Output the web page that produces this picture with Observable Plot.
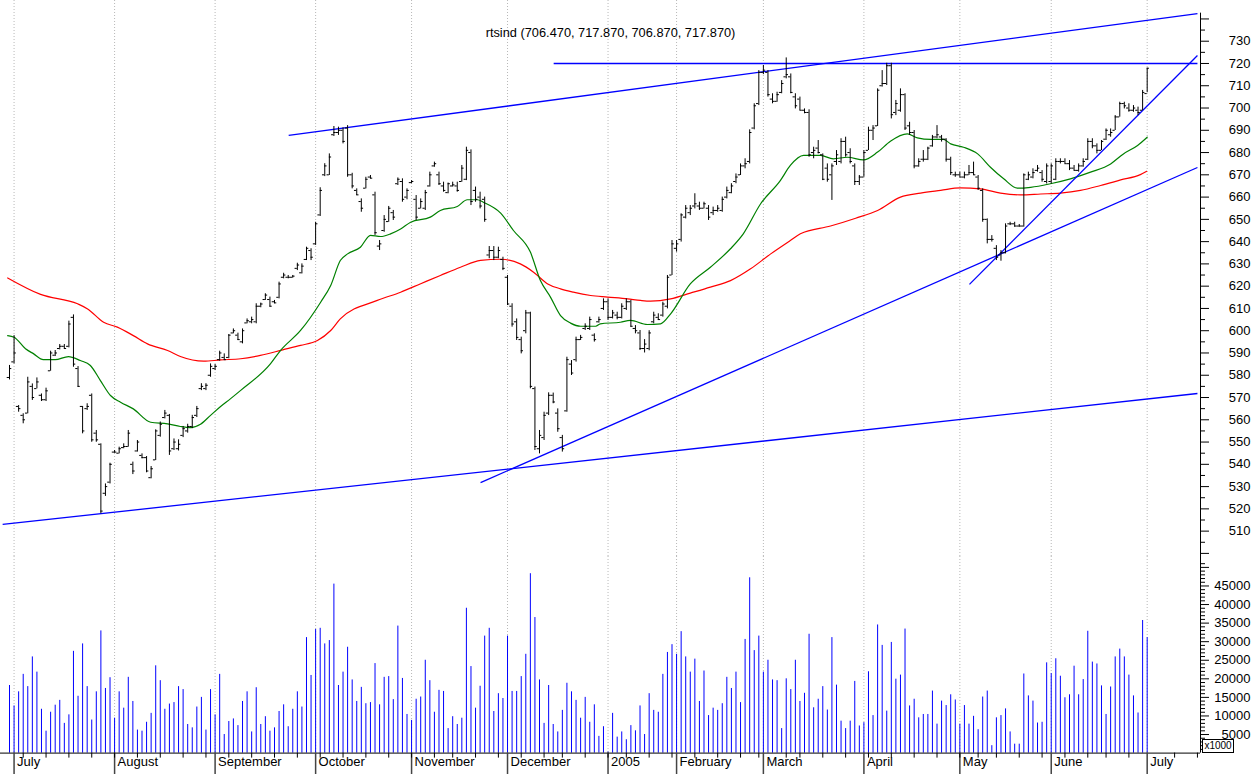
<!DOCTYPE html>
<html><head><meta charset="utf-8">
<script src="https://cdn.jsdelivr.net/npm/d3@7"></script>
<script src="https://cdn.jsdelivr.net/npm/@observablehq/plot@0.6"></script>
<style>
body{margin:0;background:#fff;}
#wrap{position:relative;width:1252px;height:774px;overflow:hidden;background:#fff;}
#wrap svg{display:block;}
#x1000{position:absolute;left:1202px;top:739px;width:30px;height:12px;border:1px solid #000;font:10px "Liberation Sans",Arial,sans-serif;line-height:12px;text-align:center;background:#fff;}
</style></head><body><div id="wrap"></div>
<script>
// ---- data ----
const titleText = "rtsind (706.470, 717.870, 706.870, 717.870)";
const monthStarts = [1, 23, 45, 67, 88, 109, 131, 146, 165, 187, 208, 228, 249];
const monthLabels = ["July","August","September","October","November","December","2005","February","March","April","May","June","July"];
const weekTicks = [3,8,13,18,23,28,33,38,43,48,53,58,63,68,73,78,83,88,93,97,102,107,112,117,121,126,131,135,140,145,150,155,160,164,170,173,178,183,188,193,198,203,208,212,216,221,226,231,236,240,245,255,260];
const priceLabels = [500,510,520,530,540,550,560,570,580,590,600,610,620,630,640,650,660,670,680,690,700,710,720,730,740];
const priceMinor = [505,515,525,535,545,555,565,575,585,595,605,615,625,635,645,655,665,675,685,695,705,715,725,735];
const volLabels = [5000,10000,15000,20000,25000,30000,35000,40000,45000,50000];
const volMinor = [1000,2000,3000,4000,6000,7000,8000,9000,11000,12000,13000,14000,16000,17000,18000,19000,21000,22000,23000,24000,26000,27000,28000,29000,31000,32000,33000,34000,36000,37000,38000,39000,41000,42000,43000,44000,46000,47000,48000,49000,51000];

// open, high, low, close per trading day (index 0 = 30 Jun 2004)
const ohlc = [
[579,584.4,577.9,583],[586,597.8,585.1,590],[566,566.4,563.4,565],[562,562.7,558.2,560],[563,579.1,562.7,577],
[575,576.1,568.7,570],[574,578.8,573.9,577],[571,571.6,568.2,569],[569,574.2,568.2,573],[582,590.8,581.8,590],
[589,591.1,588.4,590],[592,593.8,591.4,593],[593,593.8,591.9,592],[593,604.3,592.3,603],[606,607.1,583.6,585],
[583,583.9,574.6,575],[566,566,553.7,555],[565,567.2,564.2,566],[571,571.6,549.9,551],[554,555.2,549.9,551],
[549,549.2,517.8,519],[527,531.2,525.6,530],[532,540.5,531.2,540],[545.5,546.2,545,545.5],[545,547.7,544.7,547],
[547.5,549.2,547,548],[548,555.2,547.7,554],[540,541,535.4,537],[546,550.7,545.5,550],[544,544.7,542.5,543],
[543,543.5,536.2,537],[534,539,533.5,538],[542,555.5,541.7,555],[553,559,552.2,558],[561,564.2,560.4,563],
[562,562.4,544,546],[547,551.4,546.2,550],[547,551,546,549],[553,557,552,556],[555,558,554,557],
[557,562,556,561],[562,566,561,565],[574,576.2,573.1,575],[574,576.2,573.1,575.5],[580,585.1,579.1,584],
[583,584.8,582.1,584],[587,590.8,586.3,590],[588,589.6,586.6,587],[588,598.3,587.4,598],[599,600.8,598.6,600],
[598,598.9,595.6,596],[595,600.8,594.1,600],[603.5,605.3,603.1,604.5],[604,606.1,603.1,605],[604,612.1,603.1,611],
[611,612.4,610.3,612],[614,616.6,613.6,616],[614,615.1,610.6,611],[613,613.6,612.1,612.5],[615,621.8,614.3,621],
[624,625.8,623.3,625],[624,624.8,623.3,624],[624,624.8,623.6,624.5],[628,630.3,627,629.5],[626,630,625.5,629],
[632,637.5,631.5,637],[636,636.8,631.5,633],[639,648.7,638.3,648],[652,664.2,651.3,663],[670,675,669.2,674],
[670,679.4,669.7,678],[688,691.7,687.2,689],[689,691.4,687.7,690],[690,691.1,683.9,685],[691,692.1,668.9,670],
[670,670.7,663.7,665],[663,663.7,660.7,661],[658,659.2,653.2,655],[664,668.9,663.7,668],[669,669.7,668.2,668.5],
[661,662.2,642.8,644],[638,640.5,636,639],[645,651.7,644.2,650],[649,655.8,648.7,655],[653,654,649.5,651],
[666,668.6,665.2,668],[667,668.2,657.7,659],[660,663.7,658.8,663],[666.5,667.4,666,667],[659,660.7,649.5,651],
[655,659.2,654.7,658],[655,663,654,662],[665,671.2,664.5,670],[674,675.7,673.4,675],[670,671.2,665.2,666],
[665,666.7,662.2,663],[662,666.3,661.5,666],[665,666.7,664.5,665.5],[665,666.7,662.2,663],[667,674.2,666.7,673],
[668,682.4,667.4,681],[680,681.2,656.2,658],[663,664.5,657.7,659],[660,662.2,654.7,656],[659,660,648.7,650],
[634,637.8,632.3,636],[636,637.8,631.5,633],[633,637.5,632.3,636],[632,633,627,628],[624,624.8,611.3,612],
[611,612.1,601.6,603],[604,605.3,595.6,597],[596,597.1,589.6,591],[600,609.1,598.6,608],[608,608.3,573.9,575],
[574,574.7,546.2,548],[547,555.2,544.7,553],[552,563.4,550.7,562],[563,572.1,561.9,571],[571,572,567.2,568],
[563,564.9,554.4,556],[552,553,545.5,547],[564,588.1,563.4,587],[585,586.6,579.9,581],[587,597.1,585.9,596],
[596,597.9,595.6,597],[601,603.1,600.1,602],[601,606.1,600.1,605],[598,598.6,594.9,596],[604,606.1,603.4,605],
[610,614.3,609.1,613],[613,614.3,604.6,606],[606,609.1,605.3,608],[607,608.3,604.9,606],[606,612.1,605.3,611],
[610,614.3,609.1,613],[613,613.6,601.6,602],[601,602.3,598.6,600],[599,600.1,591.1,592],[592,596,590,594],
[592,600,591,599],[604,608.3,603.1,607],[606,607.6,604.6,605],[607,612.8,606.1,612],[611,624.8,609.8,624],
[625,640.5,624.8,639],[637,640.5,635.3,639],[641,652.5,639.8,652],[651,656.2,650.2,655],[653,656.2,651.7,655],
[656,661.5,654.7,657],[656,657.7,654,655],[655,657.7,654.7,657],[655,656.2,649.5,651],[653,655.5,651.7,654],
[654,656.2,653.2,655],[654,660,653.2,659],[660,664.5,659.2,663],[662,666,661.5,665],[667,670.4,666,669],
[670,674.9,669.7,674],[674,677.2,672.7,675],[676,690.2,674.9,689],[691,701.9,690.2,701],[702,716.8,701.1,716],
[716,719.1,715,717],[716,716.8,704.9,706],[704,706.4,701.9,703],[703,707.1,702.6,706],[707,712.3,706.4,711],
[714,722.5,713.1,715],[714,715.3,706.4,707],[705,706.4,699.6,701],[704,704.9,698.9,699],[699,699.6,697.4,698],
[698,699.2,677.9,679],[680,682.4,677.2,681],[682,685.4,679.4,680],[679,679.4,667.4,668],[673,674.9,666.7,668],
[670,674.9,658.5,674],[676,680.9,674.2,679],[676,686.2,674.9,685],[685,686.9,677.9,679],[680,681.7,674.9,676],
[674,674.9,665.2,667],[667,669.7,665.2,669],[669,680.9,668.9,680],[681,691.4,680.9,690],[690,692.1,685.4,691],
[692,708.6,691.7,708],[710,716.8,709.4,711],[711,720.1,710.1,719],[719,720.1,695.1,697],[698,703.4,696.6,702],
[699,708.6,698.1,706],[706,706.4,689.9,691],[692,693.6,687.7,689],[689,689.9,672.7,674],[674,677.2,673.4,676],
[677,680.9,675.7,677],[677,682.4,676.4,682],[683,687.7,682.4,687],[687,692.1,686.2,688],[687,687.7,684.7,686],
[686,686.2,675.7,677],[677,677.9,669.7,671],[670,671.2,668.9,670],[670,671.2,668.9,669],[669,671.2,668.2,670],
[670,674.2,669.7,671],[671,675.7,669.7,670],[669,669.7,663,664],[663,663.7,648.7,650],[650,650.2,639,641],
[641,642.7,639.8,641],[637,638.2,631.5,633],[634,636,631.2,635],[635,648,634.5,647],[648,648.7,647.2,648],
[648,648.7,646.5,647],[647,647.7,646.5,647],[647,670.4,646.5,670],[668,671.2,667.4,670],[669,672.7,668.2,671],
[672,674.2,671.2,673],[671,671.9,666.7,668],[667,674.9,665.9,674],[667,674.9,665.9,674],[668,677.2,667.4,676],
[676,677.2,674.9,676],[676,677.2,674.9,675],[675,676.4,671.9,673],[673,674.2,671.9,672],[672,674.9,671.2,674],
[674,677.2,673.4,676],[677,686.2,676.4,685],[685,686.2,681.7,683],[683,683.9,679.4,681],[681,685.4,680.9,685],
[686,690.6,685.4,690],[688,690.6,686.9,689],[690,696.6,689.9,696],[696,702.6,695.9,702],[702,702.6,699.6,701],
[700,701.9,698.1,699],[699,701.1,698.1,700],[699,700.4,696.6,698],[699,707.9,698.9,707],[706.47,717.87,706.87,717.87]
];

// volume (x1000) per trading day
const volume = [
18200,12700,16500,21200,17900,25900,21800,11800,5900,11000,12900,14200,8000,10300,27400,15300,29400,17900,8900,16500,
32900,17400,20300,9400,16500,12100,20400,13900,6200,5900,8300,10700,23500,19500,11800,13200,13600,17900,17100,7700,
6800,12400,15000,6200,17100,10300,21200,5000,8500,9200,7400,13900,16500,5700,17600,7700,9800,5900,6800,11200,
13000,7100,11800,16500,12400,31100,20900,33300,33600,29400,30300,45500,18200,21800,28500,19700,13900,17700,13300,13600,
24100,13000,20400,20600,14400,34200,20100,10400,8800,14500,15100,25000,19500,11000,16900,16600,6600,9800,7700,9400,
39000,23300,12100,18000,31500,33600,11200,16000,14700,31500,16600,16600,20600,26600,48300,36500,19700,8000,18200,7700,
5700,11500,18800,16500,14200,9400,15000,8300,13000,4500,7100,300,10700,4300,5700,3600,7400,6000,12700,5000,
16000,11500,11000,21200,27100,29200,26600,32700,25900,21800,25300,13900,22100,10100,12100,11500,13300,20400,17400,21800,
13600,30600,47200,27600,31500,21800,25000,19700,19500,6600,20000,17100,25000,13900,16100,32000,12200,14500,17900,11600,
31100,18300,8600,6600,8600,19300,7300,8200,21900,10100,34500,29000,11300,29800,19900,21000,33400,12700,14500,9500,
10400,10400,16700,7800,14000,12800,15700,14300,7800,12800,7800,9900,6300,15100,16700,2000,9500,10100,11900,5700,
2400,2400,21300,15400,14000,8100,8300,24300,21400,25400,20700,14900,15700,23400,15700,19800,32800,24500,24000,18100,
10400,17800,25900,28000,25900,21000,15400,10800,35700,31100
];

// moving averages: [bar index, value]
const maGreen = [[-0.4,597.8],[1,597.1],[3.5,591.9],[5.3,589.6],[7.4,587],[10,587],[12.9,588.4],[15.5,586.6],[17.7,584.4],[19.9,577.6],[22.1,570.9],[24.3,567.9],[27.1,564.9],[30.9,558.9],[34.6,558.2],[37.4,557],[39.6,556.5],[41.8,558],[44,562],[46.2,566],[48.4,569.5],[50.6,573.2],[57.1,585.1],[59.3,591.1],[63.7,600.1],[68.1,612.8],[70.3,620.3],[72.4,631.5],[74,634.5],[76.8,637.5],[79,642.8],[81.2,642.3],[83.4,643.5],[85.6,645.7],[87.8,648.7],[92.1,651],[94.3,654],[98,655.8],[100.2,658.8],[102.4,658.8],[103.7,657.7],[107.5,652.8],[110.3,645],[114,635.3],[116.2,622.5],[118.4,615.1],[120.6,606.8],[122.8,603.4],[125,602],[128.3,602],[129.3,603.1],[133.7,603.8],[135.9,604.6],[139.6,602.8],[142.5,603.1],[144.7,607.6],[149,621],[153.4,628.5],[157.8,636.8],[160.6,643.5],[164.4,657],[168.7,667.4],[170.9,674.2],[173.8,678.7],[177.5,678.7],[180.3,677.2],[183.4,677.9],[186.9,676.7],[190,680.2],[192.8,685.1],[196.5,688.4],[198.7,686.6],[201.6,685.9],[204.4,685.9],[206,683.9],[208.8,682.4],[211.9,679.4],[214.7,673.4],[217.6,668.2],[220.6,664],[223.5,664.4],[227.8,666],[232.2,668.2],[236.6,671.2],[241,674.9],[243.8,679.4],[246.9,683.2],[249,686.9]];
const maRed = [[-0.4,623.7],[6.8,616.3],[14.9,612.1],[17.1,609.8],[20.6,603.8],[23.6,601.6],[27.1,597.8],[30.2,594.1],[34.6,591.1],[37.4,588.4],[42.5,586.3],[46.2,586.9],[50.6,587.4],[54.9,588.9],[59.8,591.4],[63.7,593.4],[67.4,595.6],[70.3,600.1],[72.4,605.3],[80.5,613.6],[85.6,617.3],[90,621.1],[94.3,624.8],[98.7,628.5],[103.1,631.6],[107.5,632.1],[111.8,630],[114.7,626.3],[117.8,621],[120.6,618.8],[123.4,617.3],[127.2,615.8],[130.9,615.1],[135.3,614.3],[138.1,613.6],[140.3,613.3],[144.7,614.3],[149,616.9],[153.4,619.6],[157.8,622.5],[162.2,627.8],[166.6,634.5],[170.9,640.5],[173.1,643.5],[179.7,647],[185.2,650.5],[190,654],[195,660],[199.4,661.8],[203.8,663],[208.1,664.1],[212.5,663.7],[216.9,661.8],[221.3,661],[225.7,661.4],[230,661.8],[234.4,663],[238.8,665.2],[243.2,667.7],[247.5,670.1],[248.9,671.6]];

// trend lines: start/end bar index and value
const trendlines = [
  {i1: 61.1, v1: 687.7, i2: 260, v2: 742.4},
  {i1: 119.1, v1: 720, i2: 260, v2: 720},
  {i1: -1.5, v1: 513.0, i2: 260, v2: 571.8},
  {i1: 103.1, v1: 531.8, i2: 260, v2: 673.3},
  {i1: 210.1, v1: 620.8, i2: 260, v2: 723.6}
];

// ---- build ----
const bars = ohlc.map((d, i) => ({i, o: d[0], h: d[1], l: d[2], c: d[3]}));
const vols = volume.map((v, i) => ({i, v}));
const X_DOMAIN = [-1.97, 260.67];
const FONT = '"Liberation Sans", Arial, sans-serif';

const price = Plot.plot({
  width: 1252, height: 556,
  marginLeft: 0, marginRight: 52, marginTop: 0, marginBottom: 0,
  style: {fontFamily: FONT, fontSize: "13px", background: "#fff", overflow: "visible"},
  x: {domain: X_DOMAIN, axis: null},
  y: {domain: [498.61, 748.28], axis: null},
  marks: [
    Plot.ruleX(monthStarts, {stroke: "#b8b8b8", strokeDasharray: "1,2"}),
    Plot.line(maRed, {x: d => d[0], y: d => d[1], stroke: "#ff0000", strokeWidth: 1.2, curve: "monotone-x"}),
    Plot.line(maGreen, {x: d => d[0], y: d => d[1], stroke: "#008000", strokeWidth: 1.2, curve: "monotone-x"}),
    Plot.link(trendlines, {x1: "i1", y1: "v1", x2: "i2", y2: "v2", stroke: "#0000ff", strokeWidth: 1.3}),
    Plot.ruleX(bars, {x: "i", y1: "l", y2: "h", stroke: "#000", strokeWidth: 1}),
    Plot.ruleY(bars, {y: "o", x1: d => d.i - 0.5, x2: "i", stroke: "#000", strokeWidth: 1}),
    Plot.ruleY(bars, {y: "c", x1: "i", x2: d => d.i + 0.5, stroke: "#000", strokeWidth: 1}),
    Plot.ruleX([X_DOMAIN[1]], {y1: 742.6, y2: 498.61, stroke: "#000"}),
    Plot.axisY(priceLabels, {anchor: "right", label: null, tickSize: 8, tickPadding: 42, textAnchor: "end",
      tickFormat: d => (d >= 510 && d <= 730) ? String(d) : "", fontSize: 13}),
    Plot.axisY(priceMinor, {anchor: "right", label: null, tickSize: 4, tickFormat: () => ""}),
    Plot.text([titleText], {frameAnchor: "top", dy: 27, dx: 10, fontSize: 12.8, fill: "#000"})
  ]
});

const vol = Plot.plot({
  width: 1252, height: 218,
  marginLeft: 0, marginRight: 52, marginTop: 0, marginBottom: 21.4,
  style: {fontFamily: FONT, fontSize: "13px", background: "#fff", overflow: "visible"},
  x: {domain: X_DOMAIN, axis: null},
  y: {domain: [0, 52935], axis: null},
  marks: [
    Plot.ruleX(monthStarts, {stroke: "#b8b8b8", strokeDasharray: "1,2"}),
    Plot.ruleX(vols, {x: "i", y1: 0, y2: "v", stroke: "#0000ff", strokeWidth: 1}),
    Plot.ruleY([0], {stroke: "#000"}),
    Plot.ruleX([X_DOMAIN[1]], {stroke: "#000"}),
    Plot.ruleX(monthStarts, {y1: 0, y2: -6000, stroke: "#444", strokeWidth: 1.5}),
    Plot.ruleX(weekTicks, {y1: 0, y2: -1350, stroke: "#000"}),
    Plot.text(monthLabels, {x: (d, i) => monthStarts[i], frameAnchor: "bottom", dy: 13, dx: 3, textAnchor: "start", fontSize: 13, fill: "#000"}),
    Plot.axisY(volLabels, {anchor: "right", label: null, tickSize: 8, tickPadding: 42, textAnchor: "end",
      tickFormat: d => d <= 45000 ? String(d) : "", fontSize: 13}),
    Plot.axisY(volMinor, {anchor: "right", label: null, tickSize: 4, tickFormat: () => ""})
  ]
});

const wrap = document.getElementById("wrap");
wrap.appendChild(price);
wrap.appendChild(vol);
const box = document.createElement("div");
box.id = "x1000";
box.textContent = "x1000";
wrap.appendChild(box);
</script>
</body></html>
